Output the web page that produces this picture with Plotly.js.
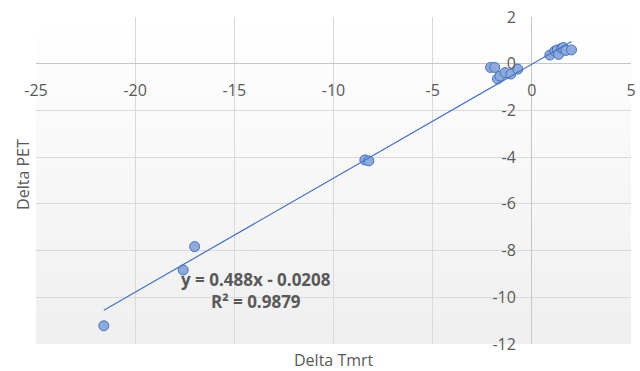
<!DOCTYPE html>
<html>
<head>
<meta charset="utf-8">
<script src="https://cdn.plot.ly/plotly-3.0.1.min.js"></script>
<style>html,body{margin:0;padding:0;background:#fff;}#chart{width:640px;height:371px;}</style>
</head>
<body>
<div id="chart"></div>
<script>
// Data
const deltaTmrt = [-21.58, -17.58, -17.0, -8.42, -8.22,
  -2.08, -1.87, -1.73, -1.61, -1.35, -1.06, -0.71,
  0.91, 1.16, 1.28, 1.35, 1.50, 1.58, 1.72, 2.0];
const deltaPET = [-11.22, -8.83, -7.83, -4.12, -4.16,
  -0.16, -0.16, -0.65, -0.53, -0.38, -0.44, -0.23,
  0.37, 0.54, 0.59, 0.40, 0.66, 0.69, 0.57, 0.59];
const slope = 0.488;
const intercept = -0.0208;
const rSquared = 0.9879;
const xTitle = "Delta Tmrt";
const yTitle = "Delta PET";
const xTickVals = [-25, -20, -15, -10, -5, 0, 5];
const xTickText = ["-25", "-20", "-15", "-10", "-5", "0", "5"];
const yTickVals = [-12, -10, -8, -6, -4, -2, 0, 2];
const yTickText = ["-12", "-10", "-8", "-6", "-4", "-2", "0", "2"];
const xRange = [-25, 5];
const yRange = [-12, 2];

const xMin = Math.min(...deltaTmrt), xMax = Math.max(...deltaTmrt);
const trendX = [xMin, xMax];
const trendY = trendX.map(v => slope * v + intercept);

const font = "Open Sans, Liberation Sans, sans-serif";
const grey = "#595959";

const bgSvg = '<svg xmlns="http://www.w3.org/2000/svg" width="100" height="100" preserveAspectRatio="none">' +
  '<defs><linearGradient id="g" x1="0" y1="0" x2="0" y2="1"><stop offset="0" stop-color="#ffffff"/><stop offset="1" stop-color="#efefef"/></linearGradient></defs>' +
  '<rect width="100" height="100" fill="url(#g)"/></svg>';

const traces = [
  {
    x: deltaTmrt, y: deltaPET, mode: "markers", type: "scatter",
    marker: {size: 10, color: "#8eaadb", line: {color: "#4472c4", width: 1}},
    hoverinfo: "none"
  },
  {
    x: trendX, y: trendY, mode: "lines", type: "scatter",
    line: {color: "#4472c4", width: 1.2}, hoverinfo: "none"
  }
];

const layout = {
  width: 640, height: 371,
  margin: {l: 36, r: 9, t: 17, b: 27},
  paper_bgcolor: "#ffffff",
  plot_bgcolor: "rgba(0,0,0,0)",
  showlegend: false,
  font: {family: font, color: grey, size: 16},
  images: [{
    source: "data:image/svg+xml;charset=utf-8," + encodeURIComponent(bgSvg),
    xref: "paper", yref: "paper", x: 0, y: 1, sizex: 1, sizey: 1,
    sizing: "stretch", layer: "below", xanchor: "left", yanchor: "top"
  }],
  xaxis: {
    range: xRange, tickmode: "array", tickvals: xTickVals, ticktext: xTickText,
    anchor: "free", position: (0 - yRange[0]) / (yRange[1] - yRange[0]),
    showgrid: true, gridcolor: "#d9d9d9", gridwidth: 1,
    zeroline: true, zerolinecolor: "#c6c6c6", zerolinewidth: 1,
    showline: false, ticks: "", ticklabelstandoff: 15,
    tickfont: {family: font, size: 16, color: grey}
  },
  yaxis: {
    range: yRange, tickmode: "array", tickvals: yTickVals, ticktext: yTickText,
    anchor: "free", position: (0 - xRange[0]) / (xRange[1] - xRange[0]),
    showgrid: true, gridcolor: "#d9d9d9", gridwidth: 1,
    zeroline: true, zerolinecolor: "#c6c6c6", zerolinewidth: 1,
    showline: false, ticks: "", ticklabelstandoff: 16,
    tickfont: {family: font, size: 16, color: grey}
  },
  annotations: [
    {
      text: "y = " + slope.toFixed(3) + "x - " + Math.abs(intercept).toFixed(4) + "<br>R² = " + rSquared.toFixed(4),
      xref: "x", yref: "y", x: -13.92, y: -9.69, showarrow: false,
      xanchor: "center", yanchor: "middle",
      font: {family: font, size: 17, color: grey, weight: "bold"}, align: "center"
    },
    {
      text: xTitle, xref: "paper", yref: "paper", x: 0.5, y: -0.049,
      xanchor: "center", yanchor: "middle",
      showarrow: false, font: {family: font, size: 16, color: grey}
    },
    {
      text: yTitle, xref: "paper", yref: "paper", x: -0.023, y: 0.518,
      xanchor: "center", yanchor: "middle",
      textangle: -90, showarrow: false, font: {family: font, size: 16, color: grey}
    }
  ]
};

Plotly.newPlot("chart", traces, layout, {displayModeBar: false, staticPlot: true});
</script>
</body>
</html>
